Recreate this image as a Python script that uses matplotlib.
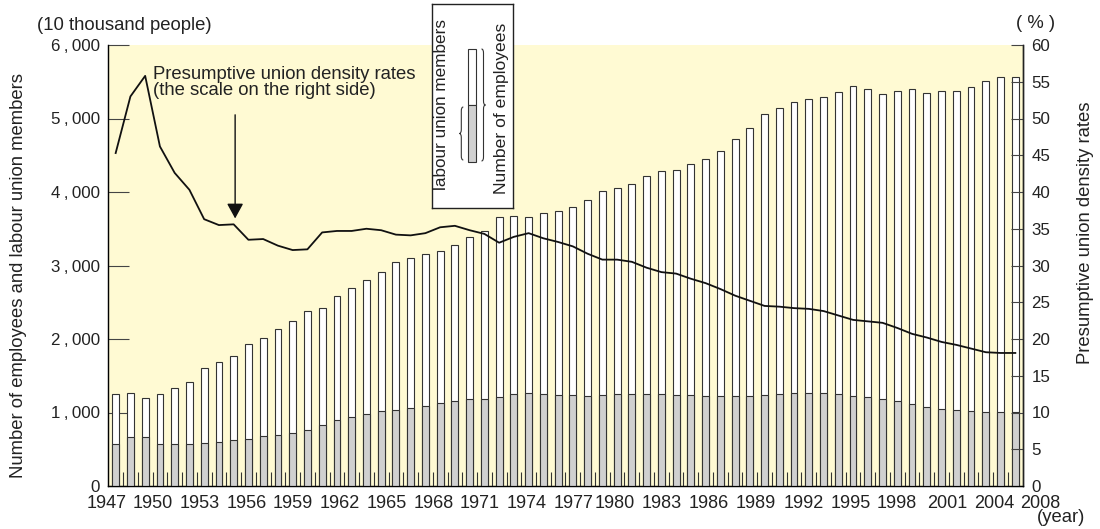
import matplotlib
matplotlib.use('Agg')
import matplotlib.pyplot as plt
from matplotlib.path import Path
from matplotlib.patches import PathPatch, Rectangle

plt.rcParams['font.family'] = ['Liberation Sans', 'DejaVu Sans']

# ---------------- data ----------------
years = list(range(1947, 2009))
employees = [1256, 1260, 1194, 1249, 1336, 1419, 1609, 1687, 1767, 1928,
             2012, 2135, 2246, 2379, 2423, 2585, 2697, 2800, 2916, 3041,
             3100, 3157, 3196, 3280, 3391, 3466, 3656, 3675, 3660, 3712,
             3747, 3798, 3896, 4016, 4049, 4108, 4215, 4282, 4298, 4376,
             4446, 4563, 4722, 4869, 5061, 5139, 5231, 5270, 5298, 5366,
             5438, 5397, 5329, 5380, 5400, 5347, 5372, 5370, 5422, 5517,
             5569, 5563]
union_members = [569, 668, 666, 577, 569, 572, 584, 599, 629, 646,
                 676, 698, 721, 766, 836, 897, 936, 980, 1015, 1040,
                 1057, 1086, 1125, 1161, 1180, 1189, 1210, 1246, 1259, 1251,
                 1244, 1238, 1231, 1237, 1247, 1253, 1252, 1246, 1242, 1234,
                 1227, 1223, 1223, 1227, 1240, 1254, 1266, 1270, 1261, 1245,
                 1229, 1209, 1183, 1154, 1121, 1080, 1053, 1031, 1014, 1004,
                 1008, 1007]
density = [45.3, 53.0, 55.8, 46.2, 42.6, 40.3, 36.3, 35.5, 35.6, 33.5,
           33.6, 32.7, 32.1, 32.2, 34.5, 34.7, 34.7, 35.0, 34.8, 34.2,
           34.1, 34.4, 35.2, 35.4, 34.8, 34.3, 33.1, 33.9, 34.4, 33.7,
           33.2, 32.6, 31.6, 30.8, 30.8, 30.5, 29.7, 29.1, 28.9, 28.2,
           27.6, 26.8, 25.9, 25.2, 24.5, 24.4, 24.2, 24.1, 23.8, 23.2,
           22.6, 22.4, 22.2, 21.5, 20.7, 20.2, 19.6, 19.2, 18.7, 18.2,
           18.1, 18.1]
year_labels = ['1947', '1950', '1953', '1956', '1959', '1962', '1965', '1968',
               '1971', '1974', '1977', '1980', '1983', '1986', '1989', '1992',
               '1995', '1998', '2001', '2004', '2008']
left_ticks = [0, 1000, 2000, 3000, 4000, 5000, 6000]
right_ticks = [0, 5, 10, 15, 20, 25, 30, 35, 40, 45, 50, 55, 60]

# layout: pixel centres of the year labels as placed in the original
label_px = [106.7, 153, 200, 247, 293, 340, 387, 433.5, 480, 527, 574, 615,
            662, 708.5, 756, 804, 851, 897, 947.5, 994.5, 1040.3]

# ---------------- layout ----------------
W, H = 1100, 529
fig = plt.figure(figsize=(W / 100, H / 100), dpi=100)
L, R, T, B = 108, 1023, 45, 486
ax = fig.add_axes([L / W, 1 - B / H, (R - L) / W, (B - T) / H])
ax.set_facecolor('#FFFAD3')

EDGE = '#333333'
xs = list(range(len(years)))
ax.bar(xs, employees, width=0.46, color='white', edgecolor=EDGE, linewidth=0.8, zorder=2)
ax.bar(xs, union_members, width=0.46, color='#D0D0D0', edgecolor=EDGE, linewidth=0.8, zorder=3)
ax.set_xlim(-0.52, len(years) - 1 + 0.52)
ax.set_ylim(0, 6000)

ax.spines['top'].set_visible(False)
for s in ('left', 'bottom', 'right'):
    ax.spines[s].set_linewidth(1.0)
    ax.spines[s].set_color('#222222')

ax.set_yticks(left_ticks)
ax.set_yticklabels(['0' if v == 0 else '{:,}'.format(v).replace(',', '\u2009,\u2009') for v in left_ticks])
ax.tick_params(axis='y', direction='in', length=15, width=0.8, color='#444444',
               labelsize=12.2, pad=6, colors='#222222')
ax.set_xticks([i + 0.5 for i in range(len(years) - 1)])
ax.tick_params(axis='x', direction='in', length=10, width=0.8, color='#333333',
               labelbottom=False)

ax2 = ax.twinx()
ax2.set_ylim(0, 60)
ax2.plot(xs, density, color='#111111', linewidth=1.3, zorder=5)
ax2.spines['top'].set_visible(False)
ax2.spines['right'].set_linewidth(1.0)
ax2.spines['right'].set_color('#222222')
ax2.set_yticks(right_ticks)
ax2.set_yticklabels([str(v) for v in right_ticks])
ax2.tick_params(axis='y', direction='in', length=9, width=0.8, color='#444444',
                labelsize=12.2, pad=6, labelcolor='#222222')

# arrow pointing to the line
ax2.annotate('', xy=(8.1, 36.4), xytext=(8.1, 50.5),
             arrowprops=dict(arrowstyle='-|>,head_length=0.457,head_width=0.25',
                             mutation_scale=20, color='#111111', lw=1.0,
                             shrinkA=0, shrinkB=0))

FS = 13.3
# annotation text
fig.text(153 / W, 1 - 79.3 / H, 'Presumptive union density rates', fontsize=FS,
         va='baseline', ha='left', color='#222222')
fig.text(153 / W, 1 - 95 / H, '(the scale on the right side)', fontsize=FS,
         va='baseline', ha='left', color='#222222')

# axis labels / units
fig.text(18.5 / W, 1 - 276 / H, 'Number of employees and labour union members',
         rotation=90, fontsize=FS, ha='center', va='center', color='#222222')
fig.text(1085 / W, 1 - 233 / H, 'Presumptive union density rates',
         rotation=90, fontsize=FS, ha='center', va='center', color='#222222')
fig.text(124 / W, 1 - 25 / H, '(10 thousand people)', fontsize=FS,
         ha='center', va='center', color='#222222')
fig.text(1035.5 / W, 1 - 23 / H, '( % )', fontsize=FS,
         ha='center', va='center', color='#222222')
fig.text(1061 / W, 1 - 518 / H, '(year)', fontsize=FS,
         ha='center', va='center', color='#222222')

# year labels
for px, lab in zip(label_px, year_labels):
    fig.text(px / W, 1 - 503.5 / H, lab, fontsize=13,
             ha='center', va='center', color='#222222')

# ---------------- legend box ----------------
lx0, lx1, ly0, ly1 = 431.7, 513.3, 4, 208.3
leg = fig.add_axes([lx0 / W, 1 - ly1 / H, (lx1 - lx0) / W, (ly1 - ly0) / H])
leg.set_xlim(lx0, lx1)
leg.set_ylim(ly1, ly0)
leg.set_facecolor('white')
leg.set_xticks([])
leg.set_yticks([])
for s in leg.spines.values():
    s.set_linewidth(1.0)
    s.set_color('#222222')

leg.add_patch(Rectangle((467.7, 49), 8.3, 56, facecolor='white', edgecolor=EDGE, lw=0.8))
leg.add_patch(Rectangle((467.7, 105), 8.3, 56.7, facecolor='#D0D0D0', edgecolor=EDGE, lw=0.8))


def brace(axx, x, y0, y1, w, direction):
    """vertical curly brace; direction -1 tip to the left, +1 tip to the right"""
    ym = (y0 + y1) / 2
    q = min(4.0, (y1 - y0) / 6)
    xm = x + direction * w / 2
    xt = x + direction * w
    verts = [(x, y0), (xm, y0), (xm, y0 + q),
             (xm, ym - q),
             (xm, ym), (xt, ym),
             (xm, ym), (xm, ym + q),
             (xm, y1 - q),
             (xm, y1), (x, y1)]
    codes = [Path.MOVETO, Path.CURVE3, Path.CURVE3,
             Path.LINETO,
             Path.CURVE3, Path.CURVE3,
             Path.CURVE3, Path.CURVE3,
             Path.LINETO,
             Path.CURVE3, Path.CURVE3]
    axx.add_patch(PathPatch(Path(verts, codes), facecolor='none', edgecolor='#333333', lw=0.8))


brace(leg, 463.3, 107, 160, 4, -1)
brace(leg, 481.5, 49, 161, 4, +1)

leg.text(441.7, 105, 'labour union members', rotation=90, fontsize=12.3,
         ha='center', va='center', color='#222222')
leg.text(501.2, 108, 'Number of employees', rotation=90, fontsize=12.6,
         ha='center', va='center', color='#222222')

fig.savefig('out.png', dpi=100)
